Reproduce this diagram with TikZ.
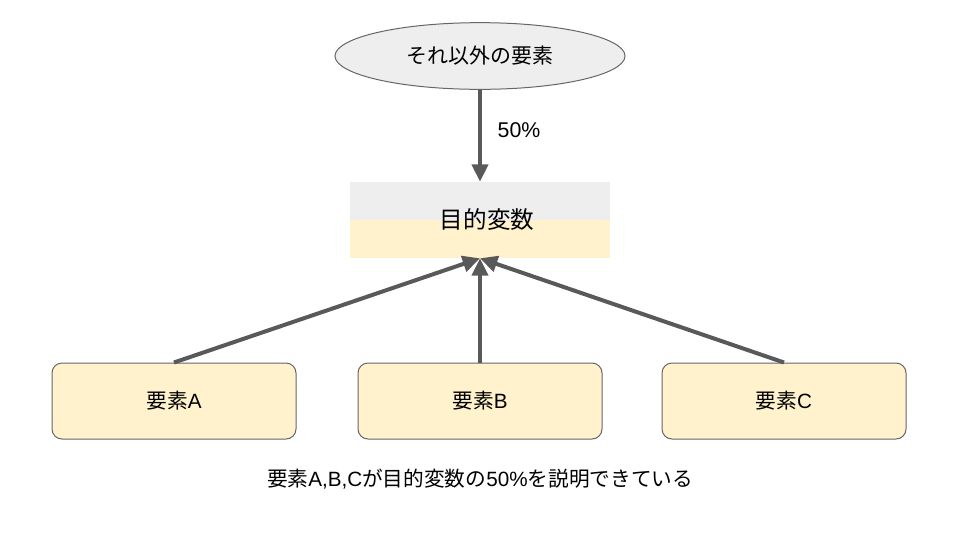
\documentclass[tikz,border=0pt]{standalone}
\usepackage{fontspec}
\setmainfont{Liberation Sans}
\newfontfamily\cjk{Noto Sans CJK JP}
\usetikzlibrary{arrows.meta,shapes.geometric}
\definecolor{lgray}{HTML}{EEEEEE}
\definecolor{lyel}{HTML}{FFF2CC}
\definecolor{arr}{HTML}{595959}
\definecolor{bord}{HTML}{666666}
\tikzset{
  conn/.style={draw=arr, line width=3pt, -{Triangle[length=13pt,width=12pt]}},
  elem/.style={draw=bord, line width=0.75pt, fill=lyel, rounded corners=7.5pt, minimum width=183pt, minimum height=57pt, font=\fontsize{15.5}{18}\selectfont},
}
\begin{document}
\begin{tikzpicture}[x=0.75pt,y=-0.75pt]
\useasboundingbox (0,0) rectangle (960,540);
% ellipse
\node[ellipse, draw=bord, line width=0.75pt, fill=lgray, minimum width=217.5pt, minimum height=50pt, inner sep=0pt, font=\fontsize{15.7}{18}\selectfont] (other) at (480,56) {\cjk それ以外の要素};
% target box
\fill[lgray] (350,182) rectangle (610,220);
\fill[lyel] (350,220) rectangle (610,258);
\node[minimum width=195pt, minimum height=57pt, inner sep=0pt] (target) at (480,220) {};
\node[font=\fontsize{17.7}{20}\selectfont] (tlabel) at (487,220) {\cjk 目的変数};
% elements
\node[elem] (a) at (174,401) {{\cjk 要素}A};
\node[elem] (b) at (480,401) {{\cjk 要素}B};
\node[elem] (c) at (784,401) {{\cjk 要素}C};
% connectors
\draw[conn] (other.south) -- (target.north);
\node[font=\fontsize{16}{19}\selectfont] (lbl) at (519,130) {50\%};
\draw[conn] (a.north) -- (target.south);
\draw[conn] (b.north) -- (target.south);
\draw[conn] (c.north) -- (target.south);
% caption
\node[font=\fontsize{15.5}{18}\selectfont] (cap) at (480,479) {{\cjk 要素}A,B,C{\cjk が目的変数の}50\%{\cjk を説明できている}};
\end{tikzpicture}
\end{document}
